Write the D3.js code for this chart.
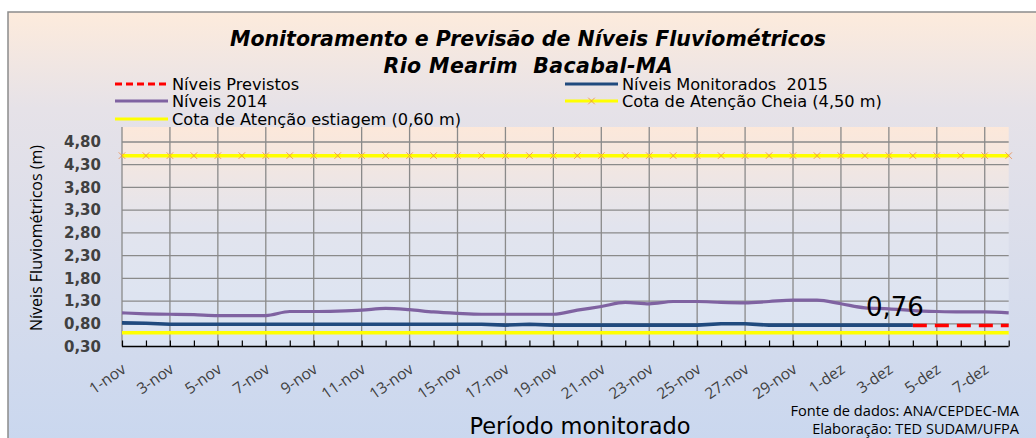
<!DOCTYPE html>
<html>
<head>
<meta charset="utf-8">
<script src="https://cdn.jsdelivr.net/npm/d3@7/dist/d3.min.js"></script>
<style>
  html, body { margin: 0; padding: 0; background: #ffffff; }
  svg { display: block; }
</style>
</head>
<body>
<svg id="chart" width="1036" height="438" font-family="Open Sans, sans-serif"></svg>
<script>
// ---------------- DATA ----------------
const categories = [
  "1-nov","2-nov","3-nov","4-nov","5-nov","6-nov","7-nov","8-nov","9-nov","10-nov",
  "11-nov","12-nov","13-nov","14-nov","15-nov","16-nov","17-nov","18-nov","19-nov","20-nov",
  "21-nov","22-nov","23-nov","24-nov","25-nov","26-nov","27-nov","28-nov","29-nov","30-nov",
  "1-dez","2-dez","3-dez","4-dez","5-dez","6-dez","7-dez","8-dez"
];
const niveis2014 = [
  1.04,1.02,1.01,1.00,0.98,0.98,0.98,1.07,1.07,1.08,
  1.10,1.14,1.11,1.06,1.03,1.01,1.01,1.01,1.01,1.10,
  1.18,1.27,1.24,1.29,1.29,1.27,1.26,1.29,1.32,1.32,
  1.24,1.15,1.13,1.09,1.07,1.06,1.06,1.04
];
const monitorados2015 = [
  0.82,0.81,0.79,0.79,0.79,0.79,0.79,0.79,0.79,0.79,
  0.79,0.79,0.79,0.79,0.79,0.79,0.77,0.79,0.77,0.77,
  0.77,0.77,0.77,0.77,0.77,0.80,0.80,0.77,0.77,0.77,
  0.77,0.77,0.77,0.77,null,null,null,null
];
const previstos = [
  null,null,null,null,null,null,null,null,null,null,
  null,null,null,null,null,null,null,null,null,null,
  null,null,null,null,null,null,null,null,null,null,
  null,null,null,0.76,0.76,0.76,0.76,0.76
];
const cotaCheia = 4.50;
const cotaEstiagem = 0.60;
const yTicks = [0.30,0.80,1.30,1.80,2.30,2.80,3.30,3.80,4.30,4.80];
const yMax = 5.13;
const forecastLabel = "0,76";
const titleLines = ["Monitoramento e Previsão de Níveis Fluviométricos", "Rio Mearim  Bacabal-MA"];
const legendItems = [
  {name: "Níveis Previstos", key: "prev"},
  {name: "Níveis Monitorados  2015", key: "mon"},
  {name: "Níveis 2014", key: "n14"},
  {name: "Cota de Atenção Cheia (4,50 m)", key: "cheia"},
  {name: "Cota de Atenção estiagem (0,60 m)", key: "estiagem"}
];
const yAxisTitle = "Níveis Fluviométricos (m)";
const xAxisTitle = "Período monitorado";
const credits = ["Fonte de dados: ANA/CEPDEC-MA", "Elaboração: TED SUDAM/UFPA"];

// ---------------- STYLES ----------------
const colors = {
  prev: "#ff0000", mon: "#204a7e", n14: "#7f62a1",
  cheia: "#ffff00", estiagem: "#ffff00", marker: "#ec8a45",
  grid: "#8a8a8a", text: "#404040"
};

const svg = d3.select("#chart");
const W = 1036, H = 438;
const plot = {left: 122, right: 1008.7, top: 127, bottom: 346.5};

const defs = svg.append("defs");
const bgGrad = defs.append("linearGradient").attr("id", "bgGrad")
  .attr("x1", 0).attr("y1", 0).attr("x2", 0).attr("y2", 1);
bgGrad.append("stop").attr("offset", "0%").attr("stop-color", "#fdebdc");
bgGrad.append("stop").attr("offset", "22%").attr("stop-color", "#e6e2e8");
bgGrad.append("stop").attr("offset", "100%").attr("stop-color", "#c9d7ef");
const plGrad = defs.append("linearGradient").attr("id", "plGrad")
  .attr("x1", 0).attr("y1", 0).attr("x2", 0).attr("y2", 1);
plGrad.append("stop").attr("offset", "0%").attr("stop-color", "#fce8da");
plGrad.append("stop").attr("offset", "45%").attr("stop-color", "#e2e4ee");
plGrad.append("stop").attr("offset", "100%").attr("stop-color", "#dbe4f3");

// chart background with border
svg.append("rect").attr("x", 8).attr("y", 12).attr("width", W).attr("height", H)
  .attr("fill", "url(#bgGrad)").attr("stroke", "#8c8c8c").attr("stroke-width", 1.5);

// plot area background
svg.append("rect").attr("x", plot.left).attr("y", plot.top)
  .attr("width", plot.right - plot.left).attr("height", plot.bottom - plot.top)
  .attr("fill", "url(#plGrad)");

// ---------------- SCALES ----------------
const x = d3.scalePoint().domain(categories).range([plot.left, plot.right]);
const y = d3.scaleLinear().domain([yTicks[0], yMax]).range([plot.bottom, plot.top]);

// gridlines horizontal
svg.append("g").selectAll("line").data(yTicks.slice(1)).join("line")
  .attr("x1", plot.left).attr("x2", plot.right)
  .attr("y1", d => y(d)).attr("y2", d => y(d))
  .attr("stroke", colors.grid).attr("stroke-width", 1.3);

// gridlines vertical (every 2 categories)
const majorCats = categories.filter((c, i) => i % 2 === 0);
svg.append("g").selectAll("line").data(majorCats).join("line")
  .attr("x1", d => x(d)).attr("x2", d => x(d))
  .attr("y1", plot.top).attr("y2", plot.bottom)
  .attr("stroke", colors.grid).attr("stroke-width", 1.3);

// y axis labels
const yAxis = d3.axisLeft(y).tickValues(yTicks).tickSize(0).tickPadding(0)
  .tickFormat(d => d3.format(".2f")(d).replace(".", ","));
const gy = svg.append("g").attr("transform", `translate(101,0)`).call(yAxis);
gy.select(".domain").remove();
gy.attr("font-family", null).attr("font-size", null);
gy.selectAll("text").attr("font-family", "DejaVu Sans").attr("font-size", 15)
  .attr("font-weight", 700).attr("fill", colors.text);

// x axis: line + ticks pointing up
const xAxis = d3.axisBottom(x).tickSize(-6).tickFormat("");
const gx = svg.append("g").attr("transform", `translate(0,${plot.bottom})`).call(xAxis);
gx.select(".domain").attr("d", `M${plot.left},0H${plot.right}`).attr("stroke", "#000").attr("stroke-width", 1.5);
gx.selectAll(".tick line").attr("stroke", "#000").attr("stroke-width", 1.2);
// x labels
svg.append("g").selectAll("text").data(majorCats).join("text")
  .attr("transform", d => `translate(${x(d) + 5},${plot.bottom + 25}) rotate(-35)`)
  .attr("text-anchor", "end").attr("font-family", "Open Sans").attr("font-size", 15.5)
  .attr("fill", colors.text)
  .text(d => d);

// ---------------- LINES ----------------
const lineGen = d3.line().defined(d => d.v != null).x(d => x(d.c)).y(d => y(d.v));
const series = arr => categories.map((c, i) => ({c, v: arr[i]}));

// cotas
svg.append("path").datum(series(categories.map(() => cotaEstiagem)))
  .attr("d", lineGen).attr("fill", "none").attr("stroke", colors.estiagem).attr("stroke-width", 3.5);
svg.append("path").datum(series(categories.map(() => cotaCheia)))
  .attr("d", lineGen).attr("fill", "none").attr("stroke", colors.cheia).attr("stroke-width", 3.5);
const star = d3.symbol().type(d3.symbolTimes).size(30);
svg.append("g").selectAll("path").data(categories).join("path")
  .attr("transform", d => `translate(${x(d)},${y(cotaCheia)})`)
  .attr("d", star).attr("fill", colors.marker).attr("stroke", colors.marker)
  .attr("stroke-width", 0.8);

// previstos (red dashed)
svg.append("path").datum(series(previstos))
  .attr("d", lineGen).attr("fill", "none").attr("stroke", colors.prev)
  .attr("stroke-width", 3.5).attr("stroke-dasharray", "14,8");
// 2014
svg.append("path").datum(series(niveis2014))
  .attr("d", lineGen.curve(d3.curveMonotoneX)).attr("fill", "none").attr("stroke", colors.n14)
  .attr("stroke-width", 3.2).attr("stroke-linejoin", "round");
lineGen.curve(d3.curveLinear);
// 2015
svg.append("path").datum(series(monitorados2015))
  .attr("d", lineGen).attr("fill", "none").attr("stroke", colors.mon)
  .attr("stroke-width", 3.6).attr("stroke-linejoin", "round");

// data label
const lastIdx = previstos.findIndex(v => v != null);
svg.append("text").attr("x", x(categories[lastIdx]) - 18).attr("y", y(previstos[lastIdx]) - 10)
  .attr("text-anchor", "middle").attr("font-family", "DejaVu Sans").attr("font-size", 26)
  .attr("fill", "#000").text(forecastLabel);

// ---------------- TITLES ----------------
svg.append("text").attr("x", 528).attr("y", 46).attr("text-anchor", "middle")
  .attr("font-family", "DejaVu Sans").attr("font-size", 20.5).attr("font-weight", 700).attr("font-style", "italic")
  .attr("textLength", 596).attr("lengthAdjust", "spacing")
  .attr("fill", "#000").text(titleLines[0]);
svg.append("text").attr("x", 528).attr("y", 73).attr("text-anchor", "middle")
  .attr("font-family", "DejaVu Sans").attr("font-size", 20.5).attr("font-weight", 700).attr("font-style", "italic")
  .attr("textLength", 289).attr("lengthAdjust", "spacing")
  .attr("fill", "#000").style("white-space", "pre").text(titleLines[1]);

// ---------------- LEGEND ----------------
const legPos = {
  prev: [115, 84], mon: [565, 84], n14: [115, 101], cheia: [565, 101], estiagem: [115, 119]
};
const legG = svg.append("g");
legendItems.forEach(it => {
  const [lx, ly] = legPos[it.key];
  const ln = legG.append("line").attr("x1", lx).attr("x2", lx + 53).attr("y1", ly).attr("y2", ly)
    .attr("stroke", colors[it.key]).attr("stroke-width", 3);
  if (it.key === "prev") ln.attr("stroke-dasharray", "7,4");
  if (it.key === "cheia") {
    legG.append("path").attr("transform", `translate(${lx + 26.5},${ly})`).attr("d", star)
      .attr("fill", colors.marker).attr("stroke", colors.marker).attr("stroke-width", 0.8);
  }
  legG.append("text").attr("x", lx + 57).attr("y", ly).attr("dy", "0.36em")
    .attr("font-family", "DejaVu Sans").attr("font-size", 16.2).attr("fill", "#000")
    .style("white-space", "pre").text(it.name);
});

// axis titles
svg.append("text").attr("transform", `translate(42,238) rotate(-90)`)
  .attr("text-anchor", "middle").attr("font-family", "Open Sans").attr("font-size", 16).attr("fill", "#000")
  .text(yAxisTitle);
svg.append("text").attr("x", 580).attr("y", 434).attr("text-anchor", "middle")
  .attr("font-family", "DejaVu Sans").attr("font-size", 22.5).attr("fill", "#000").text(xAxisTitle);

// credits
svg.append("text").attr("x", 1019).attr("y", 416).attr("text-anchor", "end")
  .attr("font-family", "Open Sans").attr("font-size", 14.6).attr("fill", "#000").text(credits[0]);
svg.append("text").attr("x", 1019).attr("y", 434).attr("text-anchor", "end")
  .attr("font-family", "Open Sans").attr("font-size", 14.6).attr("fill", "#000").text(credits[1]);
</script>
</body>
</html>
